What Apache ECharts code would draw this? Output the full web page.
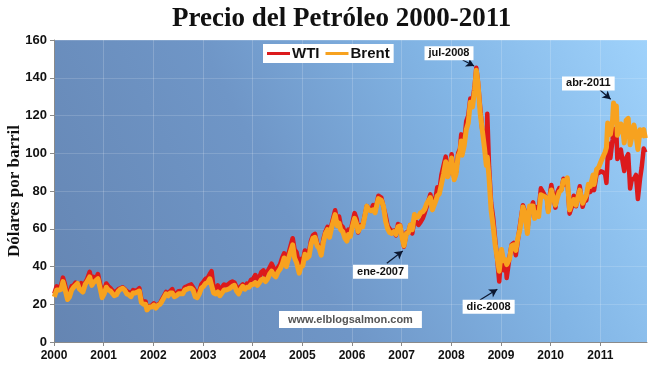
<!DOCTYPE html>
<html><head><meta charset="utf-8">
<script src="https://cdn.jsdelivr.net/npm/echarts@6/dist/echarts.min.js"></script>
<style>html,body{margin:0;padding:0;background:#fff}#c{width:650px;height:372px}</style>
</head><body><div id="c"></div>
<script>
// ---- data ----
const dates = [
 '2000-01-03','2000-01-20','2000-02-07','2000-02-22','2000-03-07','2000-03-20','2000-04-10','2000-04-24','2000-05-10','2000-05-25','2000-06-08','2000-06-22','2000-07-07','2000-07-20','2000-08-01','2000-08-18','2000-09-01','2000-09-20','2000-10-06','2000-10-18','2000-11-01','2000-11-20','2000-12-06','2000-12-21',
 '2001-01-05','2001-01-20','2001-02-05','2001-02-20','2001-03-05','2001-03-20','2001-04-05','2001-04-20','2001-05-05','2001-05-20','2001-06-05','2001-06-20','2001-07-05','2001-07-20','2001-08-05','2001-08-20','2001-09-05','2001-09-20','2001-10-05','2001-10-20','2001-11-05','2001-11-15','2001-12-05','2001-12-20',
 '2002-01-05','2002-01-20','2002-02-05','2002-02-20','2002-03-05','2002-03-20','2002-04-05','2002-04-20','2002-05-05','2002-05-20','2002-06-05','2002-06-20','2002-07-05','2002-07-20','2002-08-05','2002-08-20','2002-09-05','2002-09-20','2002-10-05','2002-10-20','2002-11-05','2002-11-20','2002-12-05','2002-12-20',
 '2003-01-05','2003-01-20','2003-02-05','2003-02-20','2003-03-05','2003-03-20','2003-04-05','2003-04-20','2003-05-05','2003-05-20','2003-06-05','2003-06-20','2003-07-05','2003-07-20','2003-08-05','2003-08-20','2003-09-05','2003-09-20','2003-10-05','2003-10-20','2003-11-05','2003-11-20','2003-12-05','2003-12-20',
 '2004-01-05','2004-01-20','2004-02-05','2004-02-20','2004-03-05','2004-03-20','2004-04-05','2004-04-20','2004-05-05','2004-05-20','2004-06-05','2004-06-20','2004-07-05','2004-07-20','2004-08-05','2004-08-20','2004-09-05','2004-09-20','2004-10-05','2004-10-22','2004-11-05','2004-11-20','2004-12-09','2004-12-20',
 '2005-01-05','2005-01-20','2005-02-05','2005-02-20','2005-03-05','2005-03-20','2005-04-04','2005-04-20','2005-05-05','2005-05-20','2005-06-05','2005-06-20','2005-07-05','2005-07-20','2005-08-05','2005-08-30','2005-09-15','2005-09-28','2005-10-10','2005-10-25','2005-11-10','2005-11-25','2005-12-05','2005-12-20',
 '2006-01-05','2006-01-20','2006-02-05','2006-02-15','2006-03-05','2006-03-20','2006-04-05','2006-04-20','2006-05-05','2006-05-20','2006-06-05','2006-06-20','2006-07-05','2006-07-14','2006-08-05','2006-08-20','2006-09-05','2006-09-20','2006-10-05','2006-10-20','2006-11-05','2006-11-20','2006-12-05','2006-12-20',
 '2007-01-05','2007-01-18','2007-02-05','2007-02-20','2007-03-05','2007-03-20','2007-04-05','2007-04-20','2007-05-05','2007-05-20','2007-06-05','2007-06-20','2007-07-05','2007-07-31','2007-08-15','2007-08-28','2007-09-10','2007-09-20','2007-10-05','2007-10-20','2007-11-05','2007-11-21','2007-12-05','2007-12-20',
 '2008-01-03','2008-01-22','2008-02-05','2008-02-20','2008-03-05','2008-03-14','2008-03-20','2008-04-05','2008-04-20','2008-05-05','2008-05-20','2008-06-05','2008-06-20','2008-07-03','2008-07-15','2008-08-01','2008-08-15','2008-09-01','2008-09-15','2008-09-22','2008-10-05','2008-10-20','2008-11-05','2008-11-20','2008-12-05','2008-12-19',
 '2009-01-05','2009-01-20','2009-02-05','2009-02-12','2009-03-05','2009-03-20','2009-04-05','2009-04-20','2009-05-05','2009-05-20','2009-06-11','2009-06-25','2009-07-14','2009-07-30','2009-08-10','2009-08-25','2009-09-05','2009-09-20','2009-10-05','2009-10-21','2009-11-05','2009-11-20','2009-12-05','2009-12-14','2009-12-28',
 '2010-01-06','2010-01-20','2010-02-05','2010-02-20','2010-03-05','2010-03-20','2010-04-05','2010-04-20','2010-05-03','2010-05-20','2010-06-05','2010-06-20','2010-07-06','2010-07-20','2010-08-03','2010-08-24','2010-09-05','2010-09-20','2010-10-05','2010-10-20','2010-11-09','2010-11-16','2010-12-05','2010-12-20',
 '2011-01-05','2011-01-20','2011-02-05','2011-02-15','2011-02-24','2011-03-07','2011-03-16','2011-04-01','2011-04-08','2011-04-20','2011-04-29','2011-05-06','2011-05-20','2011-06-01','2011-06-15','2011-06-26','2011-07-10','2011-07-25','2011-08-08','2011-08-20','2011-09-05','2011-09-20','2011-10-04','2011-10-20','2011-11-01','2011-11-16','2011-11-28'
];
const wti = [
 25.6,29.5,29.0,29.8,34.1,31.0,24.5,26.0,29.6,30.0,31.5,32.5,29.5,31.2,27.5,31.5,33.4,37.2,31.0,34.5,33.0,36.0,30.5,26.2,
 27.5,31.0,29.5,28.5,27.5,26.0,27.0,28.0,28.5,29.0,28.0,27.0,26.3,25.5,27.5,27.0,27.5,28.5,22.5,21.5,21.5,17.5,19.0,19.3,
 20.5,18.5,20.0,20.5,22.5,24.5,26.5,25.0,27.0,28.0,25.0,25.5,26.9,27.0,26.5,29.0,29.5,30.0,30.5,29.0,27.0,25.5,27.0,30.5,
 32.0,33.5,34.0,36.0,37.5,28.5,28.5,30.0,26.5,29.0,30.5,30.0,30.5,31.5,32.0,31.5,29.0,27.0,29.5,30.5,29.0,31.0,30.5,33.0,
 33.5,35.5,33.5,34.5,37.0,38.0,34.5,37.5,39.5,41.5,39.0,38.0,39.5,41.0,44.5,47.0,43.5,46.5,50.5,55.0,49.0,47.5,40.7,44.0,
 43.0,48.5,46.5,48.0,53.5,56.5,57.3,52.0,50.5,47.0,54.5,58.5,61.0,57.0,62.5,69.8,64.0,66.5,62.0,61.0,58.0,57.5,59.5,58.0,
 63.5,68.3,65.0,58.0,62.0,61.5,67.0,72.0,70.5,69.5,72.5,69.5,74.5,77.5,76.5,71.5,67.0,61.5,60.0,58.5,59.0,56.5,62.5,62.0,
 56.0,50.5,58.0,58.5,62.0,57.5,64.5,63.5,62.0,63.5,65.5,68.5,72.0,78.2,72.0,72.5,77.5,82.0,80.0,88.5,93.5,98.2,88.0,91.0,
 99.5,87.0,90.0,100.0,102.5,110.0,101.5,106.0,117.0,120.0,129.0,127.5,135.0,145.3,138.0,124.0,113.0,109.5,95.5,120.9,93.0,74.0,65.5,53.5,43.5,32.0,
 48.5,38.0,41.0,33.9,45.0,51.5,52.5,46.0,54.0,61.5,72.5,69.5,59.5,69.0,71.0,74.0,68.0,71.5,69.5,81.4,79.5,77.5,76.0,69.5,79.0,
 83.2,77.5,71.2,79.5,81.5,80.5,86.5,83.5,86.2,68.0,71.5,77.5,71.9,77.0,82.5,71.6,74.5,75.0,82.5,79.5,87.0,80.4,89.0,89.5,
 90.5,90.0,89.0,84.3,98.0,105.0,97.5,107.0,113.0,108.0,111.5,97.0,98.5,102.0,95.0,90.6,97.5,99.5,81.3,86.0,86.5,88.5,75.7,86.5,92.5,102.5,100.5
];
const brent = [
 23.9,27.5,27.5,27.9,32.0,28.5,22.5,23.8,27.5,29.0,30.0,31.0,28.0,28.5,26.5,30.5,32.0,34.5,30.0,31.5,31.5,33.5,28.5,23.5,
 25.5,29.0,27.5,27.0,26.0,24.5,25.0,27.0,28.0,28.5,27.5,25.5,25.0,24.0,26.0,26.0,26.5,27.0,21.0,20.0,20.0,17.0,18.5,18.5,
 19.5,18.0,19.5,20.0,21.5,23.5,25.5,24.5,26.0,26.0,24.0,24.5,25.5,25.5,25.5,27.5,28.0,28.5,28.5,27.5,24.0,23.5,25.5,28.5,
 29.5,31.0,31.5,33.5,34.5,26.0,25.5,26.5,24.5,26.0,27.5,27.5,28.0,28.5,29.5,30.0,27.0,25.5,28.0,29.5,28.0,29.0,29.0,30.5,
 30.5,31.5,30.0,31.5,33.0,33.5,32.0,33.5,36.0,37.5,35.5,34.5,37.0,38.5,41.0,44.5,40.0,44.0,47.5,51.5,44.5,42.0,36.5,39.5,
 40.5,46.5,44.5,45.5,51.5,55.0,55.5,51.0,49.5,46.0,53.0,57.5,59.5,55.5,61.0,67.5,61.5,63.0,59.5,58.5,55.0,53.5,57.0,56.0,
 61.5,65.5,62.5,58.5,61.0,61.0,66.5,72.0,70.0,69.5,70.0,68.5,73.5,76.0,75.0,72.0,64.0,60.0,58.0,57.5,58.5,57.0,61.0,61.5,
 55.0,51.0,57.5,58.0,62.0,59.5,67.5,66.0,66.5,68.5,69.0,70.5,73.5,76.5,70.0,70.0,75.0,77.5,78.5,83.5,89.0,95.5,87.5,91.5,
 97.5,86.0,89.0,98.5,101.0,106.5,99.0,104.0,112.5,116.0,127.0,124.5,133.0,144.0,137.5,121.0,113.0,103.0,93.5,98.0,87.0,70.0,61.0,51.0,44.0,37.5,
 49.0,43.0,43.5,41.0,44.0,51.0,51.5,48.5,55.0,59.5,71.5,68.5,57.5,72.0,72.5,72.0,65.5,68.5,66.5,78.0,77.5,77.0,76.0,69.0,77.5,
 80.5,76.5,72.5,76.5,79.5,80.5,85.5,85.0,87.0,70.0,73.5,75.5,72.5,76.5,80.5,73.5,75.5,77.5,83.5,82.5,88.5,83.5,91.5,92.5,
 95.5,98.0,100.5,103.0,116.0,115.5,110.0,117.5,126.6,121.5,125.0,109.5,112.0,115.5,112.5,105.5,117.5,118.5,104.5,108.5,115.0,110.0,102.0,112.5,109.5,112.5,108.0
];
const yearTicks = ['2000','2001','2002','2003','2004','2005','2006','2007','2008','2009','2010','2011'];
// annotations: label, label anchor [date, value], arrow start, arrow end
const annotLabels = ['jul-2008','abr-2011','ene-2007','dic-2008'];
const annotText  = [['2007-12-15',153],['2010-10-05',137],['2006-07-30',37.2],['2008-10-02',18.7]];
const annotFrom  = [['2008-03-25',149.4],['2010-12-30',133.5],['2006-09-14',41.7],['2008-07-30',22.3]];
const annotTo    = [['2008-06-17',146.2],['2011-03-18',128.6],['2007-01-09',48.2],['2008-12-05',27.9]];

// ---- build ----
function toYear(s){const p=s.split('-').map(Number);const a=Date.UTC(p[0],0,1),b=Date.UTC(p[0]+1,0,1);return p[0]+(Date.UTC(p[0],p[1]-1,p[2])-a)/(b-a);}
const xs = dates.map(toYear);
const wtiData = xs.map((x,i)=>[x,wti[i]]);
const brentData = xs.map((x,i)=>[x,brent[i]]);
const xMin = +yearTicks[0], xMax = 2011.94;

const chart = echarts.init(document.getElementById('c'), null, {renderer:'canvas'});
const sans = 'Liberation Sans, Arial, sans-serif';
chart.setOption({
  animation:false,
  backgroundColor:'#ffffff',
  title:{text:'Precio del Petróleo 2000-2011',left:167,top:1,
    textStyle:{fontFamily:'Liberation Serif, serif',fontWeight:'bold',fontSize:27,color:'#111'}},
  legend:{data:['WTI','Brent'],left:263,top:44,backgroundColor:'#fff',padding:[2,4,2,4],
    itemWidth:23,itemHeight:3,itemGap:6,icon:'rect',
    textStyle:{fontFamily:sans,fontWeight:'bold',fontSize:15,color:'#111',padding:[0,0,0,-3]}},
  grid:{left:54,right:3,top:40,bottom:30,show:true,borderWidth:0,outerBoundsMode:'none',containLabel:false,
    backgroundColor:{type:'linear',x:0,y:1,x2:1,y2:0,colorStops:[
      {offset:0,color:'#6585b2'},{offset:0.4,color:'#6f96c7'},{offset:0.7,color:'#82b5e5'},{offset:1,color:'#9fd2fb'}]}},
  xAxis:{type:'value',min:xMin,max:xMax,interval:1,
    axisLine:{show:true,lineStyle:{color:'#8a8a8a',width:1}},
    axisTick:{show:true,length:4,lineStyle:{color:'#8a8a8a'}},
    splitLine:{show:true,lineStyle:{color:'rgba(255,255,255,0.18)',width:1}},
    axisLabel:{margin:8,showMaxLabel:false,fontFamily:sans,fontWeight:'bold',fontSize:12,color:'#111',
      formatter:v=>{const i=Math.round(v-xMin);return Math.abs(v-Math.round(v))<1e-6&&yearTicks[i]?yearTicks[i]:'';}}},
  yAxis:{type:'value',min:0,max:160,interval:20,
    name:'Dólares por barril',nameLocation:'middle',nameGap:31,nameRotate:90,nameMoveOverlap:false,
    nameTextStyle:{fontFamily:'Liberation Serif, serif',fontWeight:'bold',fontSize:17,color:'#111'},
    axisLine:{show:true,lineStyle:{color:'#8a8a8a',width:1}},
    axisTick:{show:true,length:4,lineStyle:{color:'#8a8a8a'}},
    splitLine:{show:true,lineStyle:{color:'rgba(255,255,255,0.15)',width:1}},
    axisLabel:{margin:7,fontFamily:sans,fontWeight:'bold',fontSize:13,color:'#111'}},
  series:[
    {name:'WTI',type:'line',data:wtiData,showSymbol:false,symbol:'none',color:'#dc1a1c',
      lineStyle:{width:4.5,color:'#dc1a1c',join:'round'},z:2,
      markLine:{silent:true,symbol:['none','arrow'],symbolSize:[7,8],
        lineStyle:{color:'#0b1730',width:1.2,type:'solid'},label:{show:false},
        data:annotFrom.map((f,i)=>[{coord:[toYear(f[0]),f[1]]},{coord:[toYear(annotTo[i][0]),annotTo[i][1]]}])},
      markPoint:{silent:true,symbol:'rect',symbolSize:0,
        label:{show:true,position:'inside',formatter:p=>p.name,backgroundColor:'#fff',padding:[2,4,1,4],
          fontFamily:sans,fontWeight:'bold',fontSize:11,color:'#111'},
        data:annotLabels.map((n,i)=>({name:n,coord:[toYear(annotText[i][0]),annotText[i][1]]}))}},
    {name:'Brent',type:'line',data:brentData,showSymbol:false,symbol:'none',color:'#f7a21f',
      lineStyle:{width:5,color:'#f7a21f',join:'round'},z:3}
  ],
  graphic:[{type:'text',left:279,top:311,z:10,
    style:{text:'www.elblogsalmon.com',fill:'#555',font:'bold 11px Liberation Sans, Arial, sans-serif',
      backgroundColor:'#fff',padding:[3,9,3,9]}}]
});
</script></body></html>
